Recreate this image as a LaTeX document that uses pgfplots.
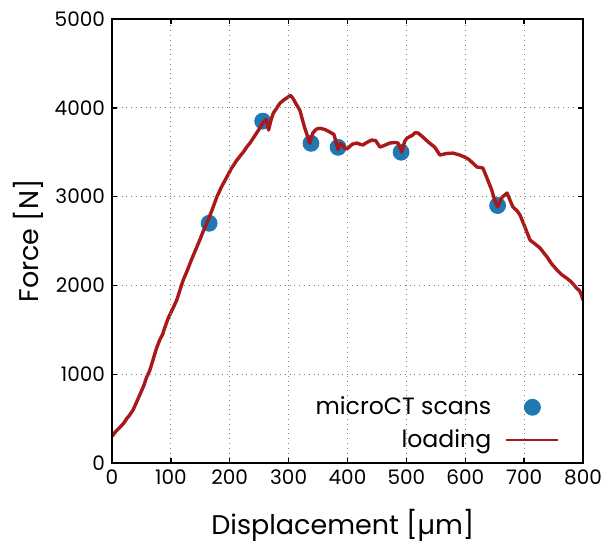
\documentclass[border=0pt]{standalone}
\usepackage{fontspec}
\setmainfont{Poppins}
\usepackage{pgfplots}
\pgfplotsset{compat=1.18}
\definecolor{scanblue}{RGB}{31,119,180}
\definecolor{loadred}{RGB}{170,25,25}
\pgfplotsset{
    dotleg/.style={legend image code/.code={\draw[mark repeat=2,mark phase=2,##1] plot coordinates {(0pt,0pt)(13pt,0pt)(26pt,0pt)};}},
    lineleg/.style={legend image code/.code={\draw[##1, line width=1.2pt] (0pt,0pt) -- (26pt,0pt);}},
}

\begin{document}
\begin{tikzpicture}
\useasboundingbox (-56pt,-39.5pt) rectangle (249pt,231.5pt);
\begin{axis}[
    at={(0,0)}, anchor=origin,
    scale only axis,
    width=235.5pt, height=222pt,
    xmin=0, xmax=800, ymin=0, ymax=5000,
    xtick={0,100,...,800},
    ytick={0,1000,...,5000},
    xtick pos=both, ytick pos=both,
    tick align=inside,
    major tick length=2.5pt,
    axis line style={black, line width=0.8pt},
    every tick/.style={black, line width=0.7pt},
    xmajorgrids, ymajorgrids,
    grid style={dotted, gray, line width=0.6pt},
    clip mode=individual,
    axis on top,
    /pgf/number format/assume math mode=true,
    /pgf/number format/set thousands separator={},
    tick label style={font=\fontsize{10}{12}\selectfont},
    xlabel={Displacement [µm]},
    ylabel={Force [N]},
    every axis x label/.style={at={(axis description cs:0.49,-0.14)}, anchor=center,
        font=\fontsize{13.5}{15}\selectfont},
    every axis y label/.style={at={(axis description cs:-0.178,0.5)}, rotate=90, anchor=center,
        font=\fontsize{13.5}{15}\selectfont},
    legend cell align=right,
    legend plot pos=right,
    legend style={draw=none, fill=none, at={(axis cs:761,795)}, anchor=north east,
        font=\fontsize{11.8}{14}\selectfont, row sep=2pt, inner sep=0pt,
        /tikz/every odd column/.append style={column sep=5pt}},
]
\addplot[only marks, mark=*, mark size=4pt, color=scanblue, dotleg] coordinates {
    (-1,245) (165,2700) (256,3850) (338,3600) (384,3555) (491,3500) (655,2900)
};
\addlegendentry{microCT scans}
\addplot[loadred, line width=1.7pt, line join=round, lineleg] coordinates {
    (0,300) (7,360) (14,405) (20,450) (25,500) (30,540) (36,600) (42,690) (48,780)
    (54,870) (59,970) (64,1040) (68,1125) (75,1280) (81,1385) (86,1450) (90,1530)
    (96,1640) (102,1720) (110,1835) (116,1960) (121,2060) (128,2170) (135,2290)
    (142,2400) (149,2510) (155,2610) (161,2700) (170,2850) (178,2995) (186,3110)
    (195,3220) (203,3320) (212,3410) (218,3460) (224,3510) (229,3560) (234,3600)
    (240,3660) (246,3720) (251,3770) (256,3830) (262,3870) (266,3750) (270,3860)
    (274,3940) (280,4000) (285,4050) (292,4090) (299,4120) (303,4140) (307,4110)
    (313,4040) (319,3975) (327,3780) (336,3600) (341,3716) (347,3760) (353,3770)
    (362,3755) (370,3727) (377,3700) (384,3530) (388,3600) (392,3580) (396,3540)
    (401,3547) (408,3590) (416,3603) (421,3590) (426,3581) (433,3610) (441,3637)
    (448,3630) (455,3558) (462,3575) (472,3603) (480,3610) (486,3603) (492,3502)
    (497,3620) (501,3659) (510,3690) (515,3720) (520,3716) (528,3671) (538,3610)
    (548,3558) (557,3468) (568,3485) (579,3490) (590,3470) (599,3445) (606,3420)
    (611,3389) (620,3333) (630,3322) (638,3190) (645,3074) (650,2960) (655,2883)
    (662,2990) (671,3040) (676,2960) (681,2883) (688,2840) (693,2793) (700,2680)
    (710,2511) (718,2470) (727,2421) (733,2370) (739,2320) (747,2240) (756,2173)
    (764,2120) (772,2083) (780,2040) (789,1970) (794,1940) (797,1900) (800,1835)
};
\addlegendentry{loading}
\draw[black, line width=0.8pt] (rel axis cs:0,0) rectangle (rel axis cs:1,1);
\end{axis}
\end{tikzpicture}
\end{document}
